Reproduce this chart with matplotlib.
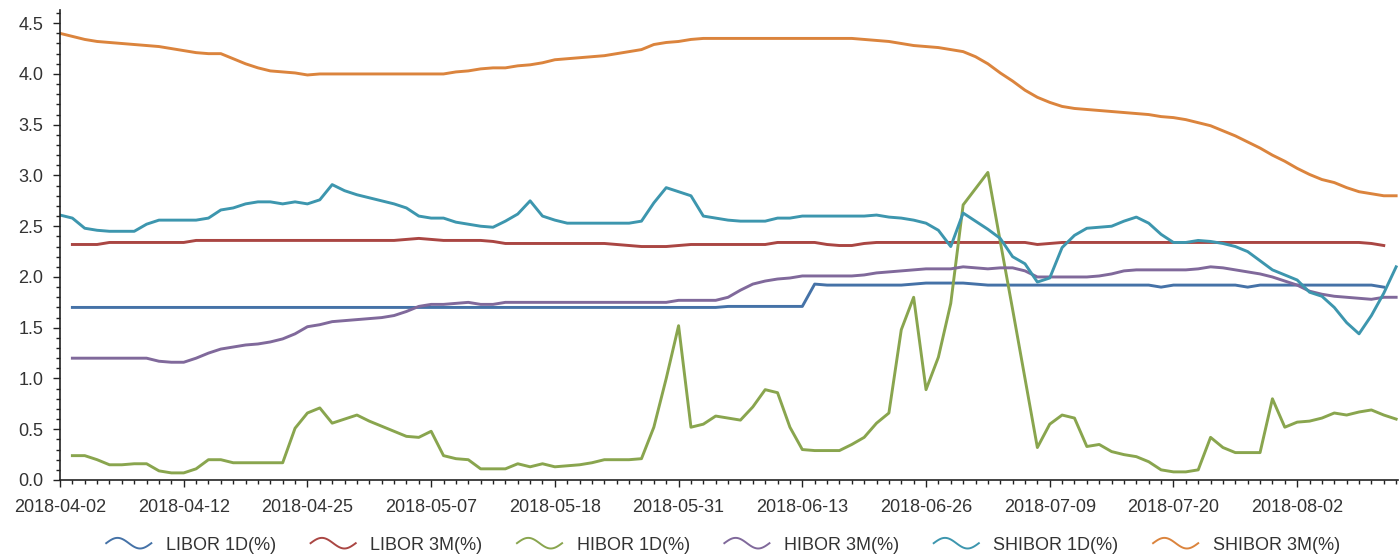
import numpy as np
import matplotlib
matplotlib.use("Agg")
import matplotlib.pyplot as plt
from matplotlib.legend_handler import HandlerBase
from matplotlib.lines import Line2D

nan = np.nan

x_tick_labels = ["2018-04-02", "2018-04-12", "2018-04-25", "2018-05-07", "2018-05-18",
                 "2018-05-31", "2018-06-13", "2018-06-26", "2018-07-09", "2018-07-20",
                 "2018-08-02"]

libor_1d = [nan] + [1.70] * 53 + [1.71] * 7 + [1.93] + [1.92] * 7 + [1.93] + [1.94] * 4 + \
    [1.93] + [1.92] * 14 + [1.90] + [1.92] * 6 + [1.90] + [1.92] * 10 + [1.90, nan]

libor_3m = [nan, 2.32, 2.32, 2.32] + [2.34] * 7 + [2.36] * 17 + \
    [2.37, 2.38, 2.37, 2.36, 2.36, 2.36, 2.36, 2.35] + [2.33] * 9 + \
    [2.32, 2.31, 2.30, 2.30, 2.30, 2.31] + [2.32] * 7 + [2.34] * 4 + \
    [2.32, 2.31, 2.31, 2.33] + [2.34] * 13 + [2.32, 2.33] + [2.34] * 25 + [2.33, 2.31, nan]

hibor_1d = [nan, 0.24, 0.24, 0.20, 0.15, 0.15, 0.16, 0.16, 0.09, 0.07,
            0.07, 0.11, 0.20, 0.20, 0.17, 0.17, 0.17, 0.17, 0.17, 0.51,
            0.66, 0.71, 0.56, 0.60, 0.64, 0.58, 0.53, 0.48, 0.43, 0.42,
            0.48, 0.24, 0.21, 0.20, 0.11, 0.11, 0.11, 0.16, 0.13, 0.16,
            0.13, 0.14, 0.15, 0.17, 0.20, 0.20, 0.20, 0.21, 0.52, 1.00,
            1.52, 0.52, 0.55, 0.63, 0.61, 0.59, 0.72, 0.89, 0.86, 0.52,
            0.30, 0.29, 0.29, 0.29, 0.35, 0.42, 0.56, 0.66, 1.48, 1.80,
            0.89, 1.21, 1.74, 2.71, 2.87, 3.03, 2.35, 1.68, 1.00, 0.32,
            0.55, 0.64, 0.61, 0.33, 0.35, 0.28, 0.25, 0.23, 0.18, 0.10,
            0.08, 0.08, 0.10, 0.42, 0.32, 0.27, 0.27, 0.27, 0.80, 0.52,
            0.57, 0.58, 0.61, 0.66, 0.64, 0.67, 0.69, 0.64, 0.60]

hibor_3m = [nan, 1.20, 1.20, 1.20, 1.20, 1.20, 1.20, 1.20, 1.17, 1.16,
            1.16, 1.20, 1.25, 1.29, 1.31, 1.33, 1.34, 1.36, 1.39, 1.44,
            1.51, 1.53, 1.56, 1.57, 1.58, 1.59, 1.60, 1.62, 1.66, 1.71,
            1.73, 1.73, 1.74, 1.75, 1.73, 1.73, 1.75, 1.75, 1.75, 1.75,
            1.75, 1.75, 1.75, 1.75, 1.75, 1.75, 1.75, 1.75, 1.75, 1.75,
            1.77, 1.77, 1.77, 1.77, 1.80, 1.87, 1.93, 1.96, 1.98, 1.99,
            2.01, 2.01, 2.01, 2.01, 2.01, 2.02, 2.04, 2.05, 2.06, 2.07,
            2.08, 2.08, 2.08, 2.10, 2.09, 2.08, 2.09, 2.09, 2.06, 2.00,
            2.00, 2.00, 2.00, 2.00, 2.01, 2.03, 2.06, 2.07, 2.07, 2.07,
            2.07, 2.07, 2.08, 2.10, 2.09, 2.07, 2.05, 2.03, 2.00, 1.96,
            1.92, 1.86, 1.83, 1.81, 1.80, 1.79, 1.78, 1.80, 1.80]

shibor_1d = [2.61, 2.58, 2.48, 2.46, 2.45, 2.45, 2.45, 2.52, 2.56, 2.56,
             2.56, 2.56, 2.58, 2.66, 2.68, 2.72, 2.74, 2.74, 2.72, 2.74,
             2.72, 2.76, 2.91, 2.85, 2.81, 2.78, 2.75, 2.72, 2.68, 2.60,
             2.58, 2.58, 2.54, 2.52, 2.50, 2.49, 2.55, 2.62, 2.75, 2.60,
             2.56, 2.53, 2.53, 2.53, 2.53, 2.53, 2.53, 2.55, 2.73, 2.88,
             2.84, 2.80, 2.60, 2.58, 2.56, 2.55, 2.55, 2.55, 2.58, 2.58,
             2.60, 2.60, 2.60, 2.60, 2.60, 2.60, 2.61, 2.59, 2.58, 2.56,
             2.53, 2.46, 2.30, 2.63, 2.55, 2.47, 2.38, 2.20, 2.13, 1.95,
             1.99, 2.29, 2.41, 2.48, 2.49, 2.50, 2.55, 2.59, 2.53, 2.42,
             2.34, 2.34, 2.36, 2.35, 2.33, 2.30, 2.25, 2.16, 2.07, 2.02,
             1.97, 1.85, 1.81, 1.70, 1.55, 1.44, 1.62, 1.84, 2.10]

shibor_3m = [4.40, 4.37, 4.34, 4.32, 4.31, 4.30, 4.29, 4.28, 4.27, 4.25,
             4.23, 4.21, 4.20, 4.20, 4.15, 4.10, 4.06, 4.03, 4.02, 4.01,
             3.99, 4.00, 4.00, 4.00, 4.00, 4.00, 4.00, 4.00, 4.00, 4.00,
             4.00, 4.00, 4.02, 4.03, 4.05, 4.06, 4.06, 4.08, 4.09, 4.11,
             4.14, 4.15, 4.16, 4.17, 4.18, 4.20, 4.22, 4.24, 4.29, 4.31,
             4.32, 4.34, 4.35, 4.35, 4.35, 4.35, 4.35, 4.35, 4.35, 4.35,
             4.35, 4.35, 4.35, 4.35, 4.35, 4.34, 4.33, 4.32, 4.30, 4.28,
             4.27, 4.26, 4.24, 4.22, 4.17, 4.10, 4.01, 3.93, 3.84, 3.77,
             3.72, 3.68, 3.66, 3.65, 3.64, 3.63, 3.62, 3.61, 3.60, 3.58,
             3.57, 3.55, 3.52, 3.49, 3.44, 3.39, 3.33, 3.27, 3.20, 3.14,
             3.07, 3.01, 2.96, 2.93, 2.88, 2.84, 2.82, 2.80, 2.80]

series_names = ["LIBOR 1D(%)", "LIBOR 3M(%)", "HIBOR 1D(%)", "HIBOR 3M(%)",
                "SHIBOR 1D(%)", "SHIBOR 3M(%)"]
series_values = [libor_1d, libor_3m, hibor_1d, hibor_3m, shibor_1d, shibor_3m]
colors = ["#4572A7", "#AA4643", "#89A54E", "#80699B", "#3D96AE", "#DB843D"]

plt.rcParams['font.family'] = ['Liberation Sans', 'DejaVu Sans']

W, H = 1399, 554
fig = plt.figure(figsize=(W / 100, H / 100), dpi=100)
ax = fig.add_axes([60 / W, 74 / H, (1398 - 60) / W, (480 - 10) / H])

n = len(shibor_3m)
idx = np.arange(n)
handles = []
for name, vals, c in zip(series_names, series_values, colors):
    ln, = ax.plot(idx, np.array(vals, dtype=float), color=c, lw=2.1,
                  solid_joinstyle='round', label=name)
    handles.append(ln)

ax.set_xlim(0, 108.15)
ax.set_ylim(0, 4.63)

tick_step = 10
ax.set_xticks(np.arange(0, tick_step * len(x_tick_labels), tick_step))
ax.set_xticklabels(x_tick_labels)
ax.set_xticks(idx, minor=True)
ax.set_yticks(np.arange(0, 4.51, 0.5))
ax.set_yticklabels([f"{v:.1f}" for v in np.arange(0, 4.51, 0.5)])
ax.set_yticks(np.arange(0, 4.61, 0.1), minor=True)

label_color = "#333333"
axis_color = "#222222"
ax.tick_params(axis='both', which='major', length=5, width=1, color=axis_color,
               labelsize=13, labelcolor=label_color)
ax.tick_params(axis='both', which='minor', length=3, width=1, color=axis_color)
ax.tick_params(axis='x', which='major', pad=9)
ax.tick_params(axis='y', which='major', pad=7)

for s in ['top', 'right']:
    ax.spines[s].set_visible(False)
for s in ['left', 'bottom']:
    ax.spines[s].set_color(axis_color)
    ax.spines[s].set_linewidth(1.2)


class SineHandler(HandlerBase):
    def create_artists(self, legend, orig_handle, xdescent, ydescent, width,
                       height, fontsize, trans):
        t = np.linspace(0, 1, 60)
        xs = -xdescent + t * width
        ys = -ydescent + height / 2 + np.sin(2 * np.pi * t) * height * 0.42
        line = Line2D(xs, ys, color=orig_handle.get_color(), lw=1.4)
        line.set_transform(trans)
        return [line]


leg = fig.legend(handles=handles, labels=series_names, ncol=6, loc='center',
                 bbox_to_anchor=(723 / W, 9 / H), frameon=False, fontsize=13,
                 handler_map={Line2D: SineHandler()}, handlelength=2.5,
                 handletextpad=0.8, columnspacing=1.92, borderpad=0)
for t in leg.get_texts():
    t.set_color(label_color)

fig.savefig("out.png", dpi=100)
